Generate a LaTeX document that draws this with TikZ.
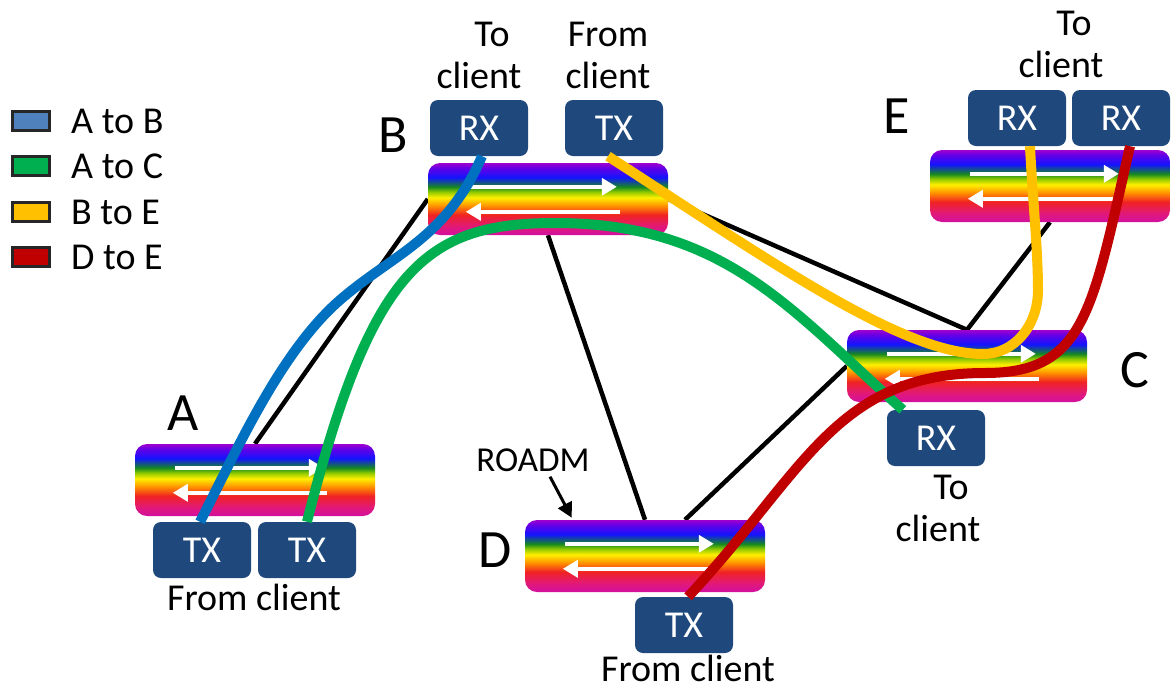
\documentclass[tikz,border=0pt]{standalone}
\usepackage{fontspec}
\setmainfont{Carlito}
\usetikzlibrary{arrows.meta,calc,backgrounds}

% colours of the network elements
\definecolor{trxblue}{RGB}{31,73,125}
\definecolor{pathblue}{RGB}{0,112,192}
\definecolor{pathgreen}{RGB}{0,176,80}
\definecolor{pathyellow}{RGB}{255,192,0}
\definecolor{pathred}{RGB}{192,0,0}
\definecolor{keyblue}{RGB}{79,129,189}

% rainbow stops of the ROADM body
\definecolor{rbtop}{RGB}{160,0,205}
\definecolor{rbviolet}{RGB}{100,0,230}
\definecolor{rbblue}{RGB}{20,20,255}
\definecolor{rbgreen}{RGB}{20,135,35}
\definecolor{rblime}{RGB}{140,200,0}
\definecolor{rbyellow}{RGB}{255,240,0}
\definecolor{rborange}{RGB}{255,140,0}
\definecolor{rbred}{RGB}{240,35,35}
\definecolor{rbpink}{RGB}{225,25,120}
\definecolor{rbbottom}{RGB}{210,16,160}

\pgfdeclareverticalshading{rainbow}{100bp}{%
  color(0bp)=(rbbottom); color(25bp)=(rbbottom); color(31bp)=(rbpink);
  color(39bp)=(rbred); color(45bp)=(rborange); color(51bp)=(rbyellow);
  color(55bp)=(rblime); color(58.5bp)=(rbgreen); color(65bp)=(rbblue);
  color(71.5bp)=(rbviolet); color(75bp)=(rbtop); color(100bp)=(rbtop)}

% the two white counter-propagating arrows inside a ROADM body
\newcommand\roadmarrows[1]{%
  \draw[flow] ($(#1.north west)+(40,24)$) -- ($(#1.north west)+(189,24)$);
  \draw[flow] ($(#1.north west)+(192,49)$) -- ($(#1.north west)+(38,49)$);}

\begin{document}
\begin{tikzpicture}[x=1pt,y=-1pt,
  roadm/.style={rectangle, rounded corners=12pt, minimum width=240pt,
    minimum height=72pt, inner sep=0pt, shade, shading=rainbow},
  trx/.style={rectangle, rounded corners=8pt, fill=trxblue, minimum width=98pt,
    minimum height=56pt, inner sep=0pt, text=white,
    font=\fontsize{38}{42}\selectfont},
  lbl/.style={inner sep=0pt, font=\fontsize{38}{42}\selectfont},
  site/.style={inner sep=0pt, font=\fontsize{54}{60}\selectfont},
  flow/.style={white, line width=3.5pt, -{Triangle[length=15pt,width=17pt]}},
  link/.style={black, line width=4.5pt},
  lightpath/.style={line width=10pt},
  keybox/.style={draw=black!85, line width=2.5pt, minimum width=37pt,
    minimum height=19pt, inner sep=0pt},
  keytext/.style={anchor=west, inner sep=0pt, font=\fontsize{38}{42}\selectfont},
  ptr/.style={black, line width=3pt, -{Triangle[length=15pt,width=15pt]}}]

\useasboundingbox (0,0) rectangle (1171,689);

% legend
\node[keybox, fill=keyblue]    (k1) at (31,121) {};
\node[keybox, fill=pathgreen]  (k2) at (31,166) {};
\node[keybox, fill=pathyellow] (k3) at (31,212) {};
\node[keybox, fill=pathred]    (k4) at (31,257) {};
\node[keytext] (t1) at (71,121) {A to B};
\node[keytext] (t2) at (71,166) {A to C};
\node[keytext] (t3) at (71,212) {B to E};
\node[keytext] (t4) at (71,257) {D to E};

% ROADM sites
\node[roadm] (A) at (255,480) {};
\node[roadm] (B) at (548,199) {};
\node[roadm] (C) at (967,366) {};
\node[roadm] (D) at (645,556) {};
\node[roadm] (E) at (1050,186) {};

% fibre links, tucked under the ROADM bodies
\begin{scope}[on background layer]
\draw[link] (A.north) -- (B.west);
\draw[link] (B.south) -- (D.north);
\draw[link] (B.east) -- (C.north);
\draw[link] ([xshift=40pt]D.north) -- (C.west);
\draw[link] (C.north) -- (E.south);
\end{scope}

\roadmarrows{A}
\roadmarrows{B}
\roadmarrows{C}
\roadmarrows{D}
\roadmarrows{E}

% transceivers
\node[trx] (ATX1) at (202,550) {TX};
\node[trx] (ATX2) at (307,550) {TX};
\node[trx] (BRX)  at (479,128) {RX};
\node[trx] (BTX)  at (614,128) {TX};
\node[trx] (CRX)  at (936,438) {RX};
\node[trx] (DTX)  at (684,625) {TX};
\node[trx] (ERX1) at (1017,118) {RX};
\node[trx] (ERX2) at (1121,118) {RX};

% lightpaths
\draw[lightpath, pathgreen] (ATX2.north) .. controls (371,269) and (425,223) .. (555,223)
  .. controls (725,223) and (791,310) .. ($(CRX.north west)+(16,0)$);
\draw[lightpath, pathblue] ([xshift=-2pt]ATX1.north) .. controls (236,452) and (280,352) .. (340,300)
  .. controls (393,254) and (446,239) .. ([xshift=3pt]BRX.south);
\draw[lightpath, pathyellow] ([xshift=-6pt]BTX.south) .. controls (776,265) and (903,354) .. (983,354)
  .. controls (1015,354) and (1038,325) .. (1038,290)
  .. controls (1038,250) and (1032,190) .. ([xshift=13pt]ERX1.south);
\draw[lightpath, pathred] ([xshift=4pt]DTX.north) .. controls (804,473) and (835,373) .. (985,373)
  .. controls (1085,373) and (1092,312) .. ([xshift=9pt]ERX2.south);

% site names
\node[site] (nA) at (183,413) {A};
\node[site] (nB) at (393,135) {B};
\node[site] (nC) at (1135,370) {C};
\node[site] (nD) at (495,550) {D};
\node[site] (nE) at (897,116) {E};

% client labels
\node[lbl] (lA) at (254,597) {From client};
\node[lbl, align=center] (lB1) at (479,55) {\hspace*{26pt}To\\client};
\node[lbl, align=center] (lB2) at (608,55) {From\\client};
\node[lbl, align=center] (lE) at (1061,44) {\hspace*{26pt}To\\client};
\node[lbl, align=center] (lC) at (938,508) {\hspace*{26pt}To\\client};
\node[lbl] (lD) at (688,668) {From client};

% device label
\node[lbl, font=\fontsize{35}{40}\selectfont] (roadmlbl) at (533,460) {ROADM};
\draw[ptr] ($(roadmlbl.south)+(17,5)$) -- ($(D.north west)+(47,-2)$);
\end{tikzpicture}
\end{document}
